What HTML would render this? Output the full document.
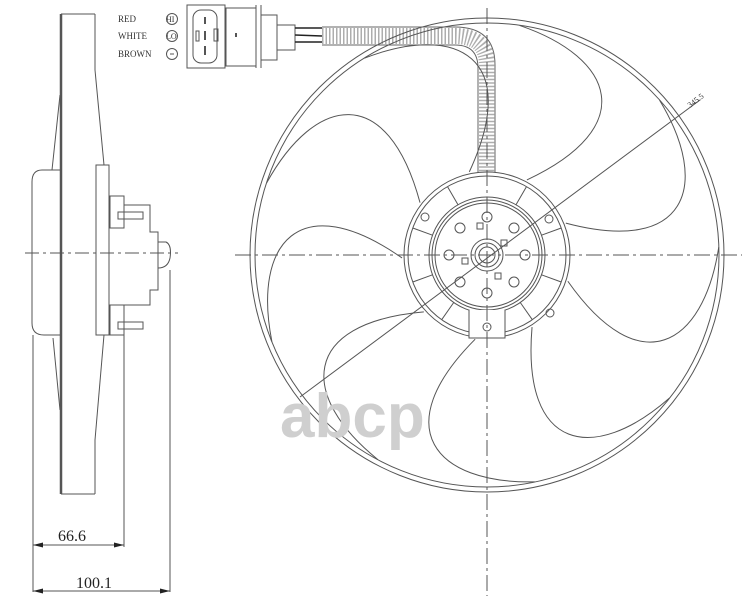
<!DOCTYPE html>
<html><head><style>
html,body{margin:0;padding:0;background:#fff;}
svg{display:block}
text{font-family:"Liberation Serif",serif;}
</style></head><body>
<svg width="750" height="600" viewBox="0 0 750 600" xmlns="http://www.w3.org/2000/svg">
<g fill="none" stroke="#555" stroke-width="1">
<line x1="61" y1="14" x2="61" y2="494" stroke-width="2.5"/>
<line x1="61" y1="14" x2="95" y2="14"/>
<line x1="95" y1="14" x2="95" y2="70"/>
<line x1="95" y1="70" x2="104" y2="165"/>
<line x1="60" y1="95" x2="52" y2="170"/>
<line x1="104" y1="335" x2="95" y2="440"/>
<line x1="95" y1="440" x2="95" y2="494"/>
<line x1="61" y1="494" x2="95" y2="494"/>
<line x1="53" y1="338" x2="60" y2="410"/>
<path d="M60 170 H42 Q32 170 32 182 V323 Q32 335 44 335 H60"/>
<rect x="96" y="165" width="13" height="170"/>
<rect x="110" y="196" width="14" height="32"/>
<rect x="110" y="305" width="14" height="30"/>
<rect x="118" y="212" width="25" height="7"/>
<rect x="118" y="322" width="25" height="7"/>
<path d="M124 205 H150 V232 H158 V290 H150 V305 H124"/>
<path d="M158 242 H166 Q172 245 170 258 Q168 268 158 268"/>
<line x1="33" y1="335" x2="33" y2="592"/>
<line x1="124" y1="330" x2="124" y2="547"/>
<line x1="170" y1="270" x2="170" y2="592"/>
<line x1="33" y1="545" x2="124" y2="545"/>
<line x1="33" y1="591" x2="170" y2="591"/>
<line x1="25" y1="253" x2="178" y2="253" stroke-dasharray="14 4 3 4"/>
</g>
<g fill="#222">
<path d="M33 545 l10 -2.5 v5z M124 545 l-10 -2.5 v5z M33 591 l10 -2.5 v5z M170 591 l-10 -2.5 v5z"/>
</g>
<text x="58" y="541" font-size="16" fill="#222">66.6</text>
<text x="76" y="588" font-size="16" fill="#222">100.1</text>

<g font-size="9" fill="#333">
<text x="118" y="22">RED</text>
<text x="118" y="39">WHITE</text>
<text x="118" y="57">BROWN</text>
<text x="166" y="22" font-size="8">HI</text>
<text x="166" y="39" font-size="8">LO</text>
</g>
<g fill="none" stroke="#555" stroke-width="1">
<circle cx="172" cy="19" r="5.5"/><circle cx="172" cy="36" r="5.5"/><circle cx="172" cy="54" r="5.5"/>
<line x1="170" y1="54" x2="174" y2="54"/>
<rect x="187" y="5" width="38" height="63"/>
<rect x="193" y="10" width="24" height="53" rx="8"/>
<line x1="205" y1="17" x2="205" y2="24" stroke-width="2"/>
<line x1="205" y1="31" x2="205" y2="40" stroke-width="2"/>
<line x1="205" y1="46" x2="205" y2="55" stroke-width="2"/>
<rect x="196" y="31" width="3" height="10"/><rect x="214" y="29" width="4" height="12"/>
<rect x="226" y="8" width="30" height="58"/>
<line x1="236" y1="33" x2="236" y2="37" stroke-width="2"/>
<line x1="256" y1="5" x2="256" y2="68"/><line x1="261" y1="5" x2="261" y2="68"/>
<path d="M261 15 H277 V25 H295 V50 H277 V60 H261"/>
<line x1="277" y1="25" x2="277" y2="50"/>
<path d="M295 28 L322 28 M295 35 L322 36 M295 42 L322 42" stroke="#222" stroke-width="1.5"/>
</g>
<g fill="none" stroke="#666">
<path d="M322 27 H455 Q495 27 495 65 V185 M322 45 H455 Q478 45 478 68 V185"/>
<path d="M322 36 H455 Q487 36 487 66 V185" stroke="#999" stroke-width="16" stroke-dasharray="1.5 2" opacity="0.8"/>
</g>
<path d="M481 183 h12 l-3 12 h-6z" fill="#333"/>

<g transform="translate(487,255)" fill="none" stroke="#555" stroke-width="1">
<circle r="237"/><circle r="232"/>
<g transform="rotate(138)"><path d="M85 0 C185 75 234 20 218 -79"/></g>
<g transform="rotate(178)"><path d="M85 0 C185 75 234 20 218 -79"/></g>
<g transform="rotate(218)"><path d="M85 0 C185 75 234 20 218 -79"/></g>
<g transform="rotate(258)"><path d="M85 0 C185 75 234 20 218 -79"/></g>
<g transform="rotate(298)"><path d="M85 0 C185 75 234 20 218 -79"/></g>
<g transform="rotate(338)"><path d="M85 0 C185 75 234 20 218 -79"/></g>
<g transform="rotate(18)"><path d="M85 0 C185 75 234 20 218 -79"/></g>
<g transform="rotate(58)"><path d="M85 0 C185 75 234 20 218 -79"/></g>
<g transform="rotate(98)"><path d="M85 0 C185 75 234 20 218 -79"/></g>
<circle r="83" fill="#fff"/><circle r="79"/><circle r="58"/><circle r="55"/><circle r="52"/>
<circle r="16"/><circle r="12"/><circle r="8"/>
<g>
<line x1="58" y1="0" x2="79" y2="0" transform="rotate(20)"/>
<line x1="58" y1="0" x2="79" y2="0" transform="rotate(55)"/>
<line x1="58" y1="0" x2="79" y2="0" transform="rotate(125)"/>
<line x1="58" y1="0" x2="79" y2="0" transform="rotate(160)"/>
<line x1="58" y1="0" x2="79" y2="0" transform="rotate(200)"/>
<line x1="58" y1="0" x2="79" y2="0" transform="rotate(240)"/>
<line x1="58" y1="0" x2="79" y2="0" transform="rotate(300)"/>
<line x1="58" y1="0" x2="79" y2="0" transform="rotate(340)"/>
</g>
<circle cx="-62" cy="-38" r="4"/><circle cx="62" cy="-36" r="4"/><circle cx="63" cy="58" r="4"/>
<circle cx="0" cy="-38" r="5"/><circle cx="0" cy="38" r="5"/><circle cx="-38" cy="0" r="5"/><circle cx="38" cy="0" r="5"/>
<circle cx="-27" cy="-27" r="5"/><circle cx="27" cy="-27" r="5"/><circle cx="-27" cy="27" r="5"/><circle cx="27" cy="27" r="5"/>
<rect x="-10" y="-32" width="6" height="6"/><rect x="14" y="-15" width="6" height="6"/><rect x="-25" y="3" width="6" height="6"/><rect x="8" y="18" width="6" height="6"/>
<path d="M-18 55 V83 H18 V55" fill="#fff"/>
<circle cx="0" cy="72" r="4"/>
</g>
<g stroke="#555" fill="none" stroke-width="1">
<line x1="235" y1="255" x2="742" y2="255" stroke-dasharray="16 4 3 4"/>
<line x1="487" y1="8" x2="487" y2="596" stroke-dasharray="16 4 3 4"/>
<line x1="300" y1="397" x2="700" y2="100"/>
</g>
<text x="0" y="0" font-size="8" fill="#333" transform="translate(690,108) rotate(-37)">345.5</text>
<text x="280" y="437" font-size="62" font-weight="bold" fill="#cfcfcf" style="font-family:'Liberation Sans',sans-serif">abcp</text>
</svg>
</body></html>
